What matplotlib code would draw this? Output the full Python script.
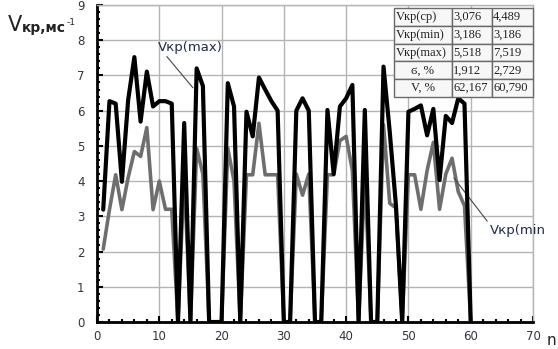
import matplotlib.pyplot as plt
from matplotlib.ticker import MultipleLocator

# point numbers 1..60 and critical speeds for both series
n = list(range(1, 61))

v_max = [3.19, 6.27, 6.20, 3.98, 6.30, 7.52, 5.69, 7.11, 6.12, 6.27,
         6.27, 6.20, 0.00, 5.65, 0.00, 7.20, 6.70, 0.00, 0.00, 0.00,
         6.78, 6.12, 0.00, 5.97, 5.27, 6.94, 6.60, 6.27, 6.00, 0.00,
         0.00, 6.00, 6.35, 6.00, 0.00, 0.00, 6.02, 4.20, 6.12, 6.35,
         6.73, 0.00, 6.02, 0.00, 0.00, 7.25, 5.40, 3.30, 0.00, 5.97,
         6.05, 6.15, 5.30, 6.05, 4.03, 5.85, 5.65, 6.35, 6.20, 0.00]

v_min = [2.07, 3.19, 4.18, 3.19, 4.10, 4.84, 4.70, 5.52, 3.19, 4.00,
         3.20, 3.20, 0.00, 4.18, 0.00, 4.93, 4.20, 0.00, 0.00, 0.00,
         4.93, 4.00, 0.00, 4.18, 4.18, 5.64, 4.18, 4.18, 4.18, 0.00,
         0.00, 4.20, 3.60, 4.20, 0.00, 0.00, 4.18, 4.18, 5.15, 5.27,
         4.30, 0.00, 4.18, 0.00, 0.00, 5.60, 3.37, 3.24, 0.00, 4.18,
         4.18, 3.20, 4.30, 5.10, 3.20, 4.20, 4.65, 3.70, 3.30, 0.00]

row_labels = ["Vкр(ср)", "Vкр(min)", "Vкр(max)", "ϭ, %", "V, %"]
col_min = ["3,076", "3,186", "5,518", "1,912", "62,167"]
col_max = ["4,489", "3,186", "7,519", "2,729", "60,790"]

x_ticks = [0, 10, 20, 30, 40, 50, 60, 70]
y_ticks = [0, 1, 2, 3, 4, 5, 6, 7, 8, 9]

label_color = "#333344"
note_color = "#1e2a4a"
grid_color = "#b4b4b4"

fig = plt.figure(figsize=(5.58, 3.49), dpi=100)
ax = fig.add_axes([97 / 558, 27 / 349, 436 / 558, 317 / 349])

ax.plot(n, v_min, color="#6e6e6e", lw=2.6, solid_joinstyle="round",
        solid_capstyle="round", zorder=3)
ax.plot(n, v_max, color="black", lw=3.0, solid_joinstyle="round",
        solid_capstyle="round", zorder=4)

ax.set_xlim(0, 70)
ax.set_ylim(0, 9)
ax.set_xticks(x_ticks)
ax.set_yticks(y_ticks)
ax.xaxis.set_minor_locator(MultipleLocator(2))
ax.yaxis.set_minor_locator(MultipleLocator(0.2))
ax.tick_params(which="major", direction="in", length=4, width=1.5,
               labelsize=8.5, labelcolor=label_color)
ax.tick_params(which="minor", direction="in", length=2.5, width=1.5)
ax.tick_params(axis="y", pad=9)
ax.tick_params(axis="x", pad=6)

ax.grid(True, which="major", color=grid_color, lw=1.0)
ax.set_axisbelow(True)
for side in ("left", "bottom"):
    ax.spines[side].set_linewidth(2)
    ax.spines[side].set_color("black")
for side in ("top", "right"):
    ax.spines[side].set_linewidth(1.0)
    ax.spines[side].set_color(grid_color)

# y axis caption: V + small letters + superscript -1
t1 = fig.text(8 / 558, 1 - 31 / 349, "V", fontsize=15, color="#222222")
t2 = ax.annotate("кр,мс", xy=(1, 0), xycoords=t1, fontsize=10,
                 fontweight="bold", color="#222222", va="bottom")
ax.annotate("-1", xy=(1, 0.55), xycoords=t2, fontsize=6.5,
            color="#222222", va="bottom")

fig.text(547 / 558, 1 - 345 / 349, "n", fontsize=11, color="#222222")

# series callouts
ax.annotate("Vкр(max)", xy=(15.4, 6.65), xytext=(9.8, 7.7),
            fontsize=9.5, color=note_color,
            arrowprops=dict(arrowstyle="-", color="#444444", lw=0.8,
                            shrinkA=0, shrinkB=0,
                            relpos=(0.1, 0.0)))
ax.annotate("Vкр(min", xy=(57.3, 4.09), xytext=(63.0, 2.5),
            fontsize=9.5, color=note_color, annotation_clip=False,
            arrowprops=dict(arrowstyle="-", color="#444444", lw=0.8,
                            shrinkA=0, shrinkB=0,
                            relpos=(0.0, 1.0)))

# statistics table
cells = [[r, a, b] for r, a, b in zip(row_labels, col_min, col_max)]
tab = ax.table(cellText=cells, colWidths=[0.417, 0.288, 0.295],
               cellLoc="left",
               bbox=[(394 - 97) / 436, (322 - 97) / 317,
                     (533 - 394) / 436, 89 / 317])
tab.auto_set_font_size(False)
tab.set_zorder(5)
for (r, c), cell in tab.get_celld().items():
    cell.set_edgecolor("#6a6a6a")
    cell.set_linewidth(1.0)
    cell.set_facecolor("#f7f7f7")
    cell.PAD = 0.03
    txt = cell.get_text()
    txt.set_fontsize(9)
    txt.set_fontfamily(["Liberation Serif", "DejaVu Serif"])
    txt.set_color("#222222")
    if c == 0 and r >= 3:
        txt.set_horizontalalignment("center")
        cell._loc = "center"

fig.savefig("out.png", dpi=100)
